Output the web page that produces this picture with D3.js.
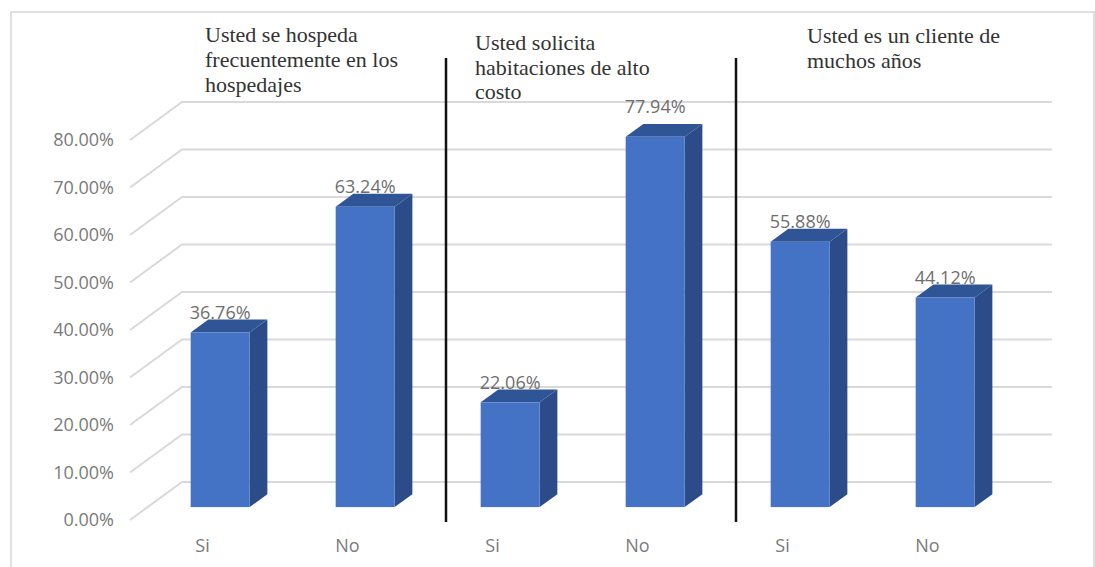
<!DOCTYPE html>
<html>
<head>
<meta charset="utf-8">
<script src="https://cdn.jsdelivr.net/npm/d3@7"></script>
<style>
  html, body { margin: 0; padding: 0; background: #fff; }
  svg { display: block; }
</style>
</head>
<body>
<svg id="chart" width="1095" height="567"></svg>
<script>
// Survey answers, three questions with Si / No each
const categories = ["Si", "No", "Si", "No", "Si", "No"];
const values = [36.76, 63.24, 22.06, 77.94, 55.88, 44.12];
const yTicks = [0, 10, 20, 30, 40, 50, 60, 70, 80];
const questionTitles = [
  ["Usted se hospeda", "frecuentemente en los", "hospedajes"],
  ["Usted solicita", "habitaciones de alto", "costo"],
  ["Usted es un cliente de", "muchos años"]
];

// Layout
const W = 1095, H = 567;
const wall = { left: 182, right: 1052, bottom: 482, top: 102 };
const depth = { dx: -52, dy: 38 };          // back wall -> front edge of floor
const barFront = 0.66, barBack = 0.32;      // bar faces as a fraction of depth
const barWidthRatio = 0.407;
const titlePos = [
  { x: 205, y: 42, lh: 25 },
  { x: 475, y: 50, lh: 24.5 },
  { x: 807, y: 43, lh: 25 }
];
const labelLift = [20, 20, 20, 30, 20, 20];

const colors = {
  front: "#4472C4", side: "#2B4C88", top: "#2F5597",
  grid: "#d9d9d9", text: "#7a7a7a", value: "#6e6e6e", title: "#333333"
};
const labelFont = "'Open Sans', sans-serif";
const labelSize = 18;

const svg = d3.select("#chart");

// outer frame
svg.append("rect")
  .attr("x", 11).attr("y", 12).attr("width", 1083).attr("height", 570)
  .attr("fill", "#fff").attr("stroke", "#d6d6d6").attr("stroke-width", 1.5);

const x = d3.scaleBand().domain(d3.range(categories.length))
  .range([wall.left, wall.right]).paddingInner(0).paddingOuter(0);
const y = d3.scaleLinear().domain([0, 80]).range([wall.bottom, wall.top]);

// gridlines: back wall horizontals plus side-wall diagonals
const grid = svg.append("g").attr("stroke", colors.grid).attr("stroke-width", 2).attr("fill", "none");
grid.selectAll("path").data(yTicks).join("path")
  .attr("d", v => `M${wall.left + depth.dx},${y(v) + depth.dy}L${wall.left},${y(v)}H${wall.right}`);

// y axis labels
svg.append("g").selectAll("text").data(yTicks).join("text")
  .attr("x", wall.left + depth.dx - 16)
  .attr("y", v => y(v) + depth.dy)
  .attr("dy", "0.35em")
  .attr("text-anchor", "end")
  .attr("font-family", labelFont)
  .attr("font-size", labelSize)
  .attr("fill", colors.text)
  .text(v => d3.format(".2f")(v) + "%");

// 3D bars
const bw = x.bandwidth() * barWidthRatio;
const fx = depth.dx * barFront, fy = depth.dy * barFront;
const bx = depth.dx * barBack, by = depth.dy * barBack;
const bars = svg.append("g").selectAll("g").data(values).join("g");
bars.each(function (v, i) {
  const g = d3.select(this);
  const cx = x(i) + x.bandwidth() / 2;
  const l = cx + fx - bw / 2, r = cx + fx + bw / 2;
  const b = y(0) + fy, t = y(v) + fy;
  const ox = bx - fx, oy = by - fy;   // front -> back offset
  // side face
  g.append("path").attr("fill", colors.side)
    .attr("d", `M${r},${b}L${r + ox},${b + oy}L${r + ox},${t + oy}L${r},${t}Z`);
  // top face
  g.append("path").attr("fill", colors.top)
    .attr("d", `M${l},${t}L${l + ox},${t + oy}L${r + ox},${t + oy}L${r},${t}Z`);
  // front face
  g.append("rect").attr("fill", colors.front)
    .attr("x", l).attr("y", t).attr("width", bw).attr("height", b - t);
});

// value labels
svg.append("g").selectAll("text").data(values).join("text")
  .attr("x", (v, i) => x(i) + x.bandwidth() / 2 + fx)
  .attr("y", (v, i) => y(v) + fy - labelLift[i])
  .attr("dy", "0.35em")
  .attr("text-anchor", "middle")
  .attr("font-family", labelFont)
  .attr("font-size", labelSize)
  .attr("fill", colors.value)
  .text(v => v.toFixed(2) + "%");

// category labels along the front edge of the floor
svg.append("g").selectAll("text").data(categories).join("text")
  .attr("x", (c, i) => x(i) + x.bandwidth() / 2 + depth.dx)
  .attr("y", y(0) + depth.dy + 32)
  .attr("text-anchor", "middle")
  .attr("font-family", labelFont)
  .attr("font-size", labelSize)
  .attr("fill", colors.text)
  .text(c => c);

// separators between the three questions
const seps = [2, 4];
svg.append("g").selectAll("line").data(seps).join("line")
  .attr("x1", i => x(i) + depth.dx / 2).attr("x2", i => x(i) + depth.dx / 2)
  .attr("y1", 58).attr("y2", 522)
  .attr("stroke", "#111").attr("stroke-width", 2.5);

// question titles
questionTitles.forEach((lines, k) => {
  const p = titlePos[k];
  svg.append("text")
    .attr("font-family", "'Liberation Serif', 'Times New Roman', serif")
    .attr("font-size", 22)
    .attr("fill", colors.title)
    .selectAll("tspan").data(lines).join("tspan")
    .attr("x", p.x)
    .attr("y", (d, j) => p.y + j * p.lh)
    .text(d => d);
});
</script>
</body>
</html>
